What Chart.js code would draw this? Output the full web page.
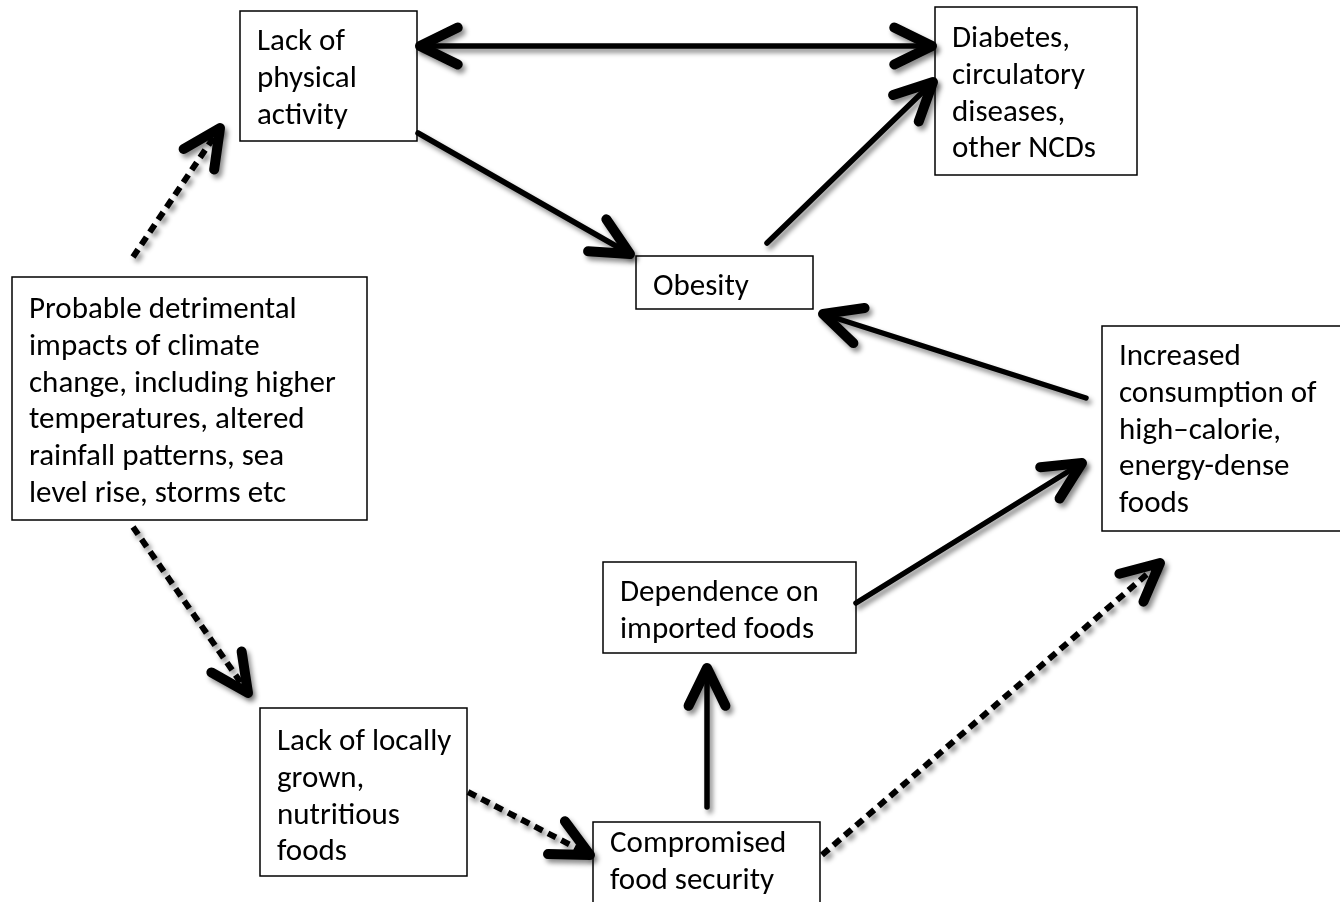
<!DOCTYPE html>
<html><head><meta charset="utf-8">
<script src="https://cdn.jsdelivr.net/npm/chart.js@4.4.1/dist/chart.umd.min.js"></script>
<style>html,body{margin:0;padding:0;background:#fff;overflow:hidden}canvas{display:block}</style>
</head><body>
<canvas id="c" width="1340" height="902"></canvas>
<script>
// ---- Diagram data (x/y in diagram units, y grows downward) ----
const boxLabels = [
  ["Lack of", "physical", "activity"],
  ["Diabetes,", "circulatory", "diseases,", "other NCDs"],
  ["Obesity"],
  ["Probable detrimental", "impacts of climate", "change, including higher", "temperatures, altered", "rainfall patterns, sea", "level rise, storms etc"],
  ["Increased", "consumption of", "high\u2013calorie,", "energy-dense", "foods"],
  ["Dependence on", "imported foods"],
  ["Lack of locally", "grown,", "nutritious", "foods"],
  ["Compromised", "food security"]
];
const boxLeft   = [240, 935, 636, 12, 1102, 603, 260, 593];
const boxRight  = [417, 1137, 813, 367, 1345, 856, 467, 820];
const boxTop    = [11, 7, 256, 277, 326, 562, 708, 822];
const boxBottom = [141, 175, 309, 520, 531, 653, 876, 910];
const textFirstBaseline = [50, 47, 295, 318, 365, 601, 750, 852];

// arrows: from (tail) -> to (head tip)
const arrowFromX = [420, 418, 767, 1086, 856, 707, 822, 468, 133, 133];
const arrowFromY = [46, 133, 243, 398, 603, 807, 855, 792, 527, 257];
const arrowToX   = [932, 630, 933, 823, 1082, 707, 1160, 590, 248, 220];
const arrowToY   = [46, 254, 82, 314, 463, 668, 563, 855, 693, 128];
const arrowDotted = [false, false, false, false, false, false, true, true, true, true];
const arrowBothEnds = [true, false, false, false, false, false, false, false, false, false];

const HEAD_LEN = 42, HEAD_ANGLE = 26 * Math.PI / 180;
const LINE_GAP = 36.8;
const FONT = '31px Carlito, Lato, sans-serif';

function headPoints(tx, ty, fx, fy) {
  const a = Math.atan2(fy - ty, fx - tx);
  return [
    {x: tx + HEAD_LEN * Math.cos(a + HEAD_ANGLE), y: ty + HEAD_LEN * Math.sin(a + HEAD_ANGLE)},
    {x: tx, y: ty},
    {x: tx + HEAD_LEN * Math.cos(a - HEAD_ANGLE), y: ty + HEAD_LEN * Math.sin(a - HEAD_ANGLE)}
  ];
}

const datasets = [];
for (let i = 0; i < arrowFromX.length; i++) {
  const dotted = arrowDotted[i];
  datasets.push({
    type: 'line',
    data: [{x: arrowFromX[i], y: arrowFromY[i]}, {x: arrowToX[i], y: arrowToY[i]}],
    borderColor: '#000', borderWidth: dotted ? 6 : 5.5,
    borderDash: dotted ? [9, 6] : [],
    borderCapStyle: dotted ? 'butt' : 'round',
    pointRadius: 0, fill: false, tension: 0, clip: false
  });
  const heads = [headPoints(arrowToX[i], arrowToY[i], arrowFromX[i], arrowFromY[i])];
  if (arrowBothEnds[i]) heads.push(headPoints(arrowFromX[i], arrowFromY[i], arrowToX[i], arrowToY[i]));
  heads.forEach(h => datasets.push({
    type: 'line', data: h,
    borderColor: '#000', borderWidth: 10,
    borderCapStyle: 'round', borderJoinStyle: 'round',
    pointRadius: 0, fill: false, tension: 0, clip: false
  }));
}

const diagramPlugin = {
  id: 'diagram',
  beforeDatasetsDraw(chart) {
    const {ctx, scales: {x, y}} = chart;
    ctx.save();
    for (let i = 0; i < boxLabels.length; i++) {
      const l = x.getPixelForValue(boxLeft[i]), r = x.getPixelForValue(boxRight[i]);
      const t = y.getPixelForValue(boxTop[i]), b = y.getPixelForValue(boxBottom[i]);
      ctx.fillStyle = '#fff';
      ctx.fillRect(l, t, r - l, b - t);
      ctx.strokeStyle = '#000';
      ctx.lineWidth = 1.5;
      ctx.strokeRect(l, t, r - l, b - t);
      ctx.fillStyle = '#000';
      ctx.font = FONT;
      ctx.textBaseline = 'alphabetic';
      ctx.textAlign = 'left';
      boxLabels[i].forEach((line, k) => {
        ctx.fillText(line, l + 17, y.getPixelForValue(textFirstBaseline[i] + k * LINE_GAP));
      });
    }
    ctx.restore();
    ctx.save();
    ctx.shadowColor = 'rgba(0,0,0,0.45)';
    ctx.shadowBlur = 5;
    ctx.shadowOffsetX = 3;
    ctx.shadowOffsetY = 4;
  },
  afterDatasetsDraw(chart) {
    chart.ctx.restore();
  }
};

new Chart(document.getElementById('c'), {
  type: 'scatter',
  data: {datasets},
  options: {
    responsive: false, animation: false, events: [],
    layout: {padding: 0},
    plugins: {legend: {display: false}, tooltip: {enabled: false}},
    scales: {
      x: {type: 'linear', min: 0, max: 1340, display: false},
      y: {type: 'linear', min: 0, max: 902, reverse: true, display: false}
    }
  },
  plugins: [diagramPlugin]
});
</script>
</body></html>
